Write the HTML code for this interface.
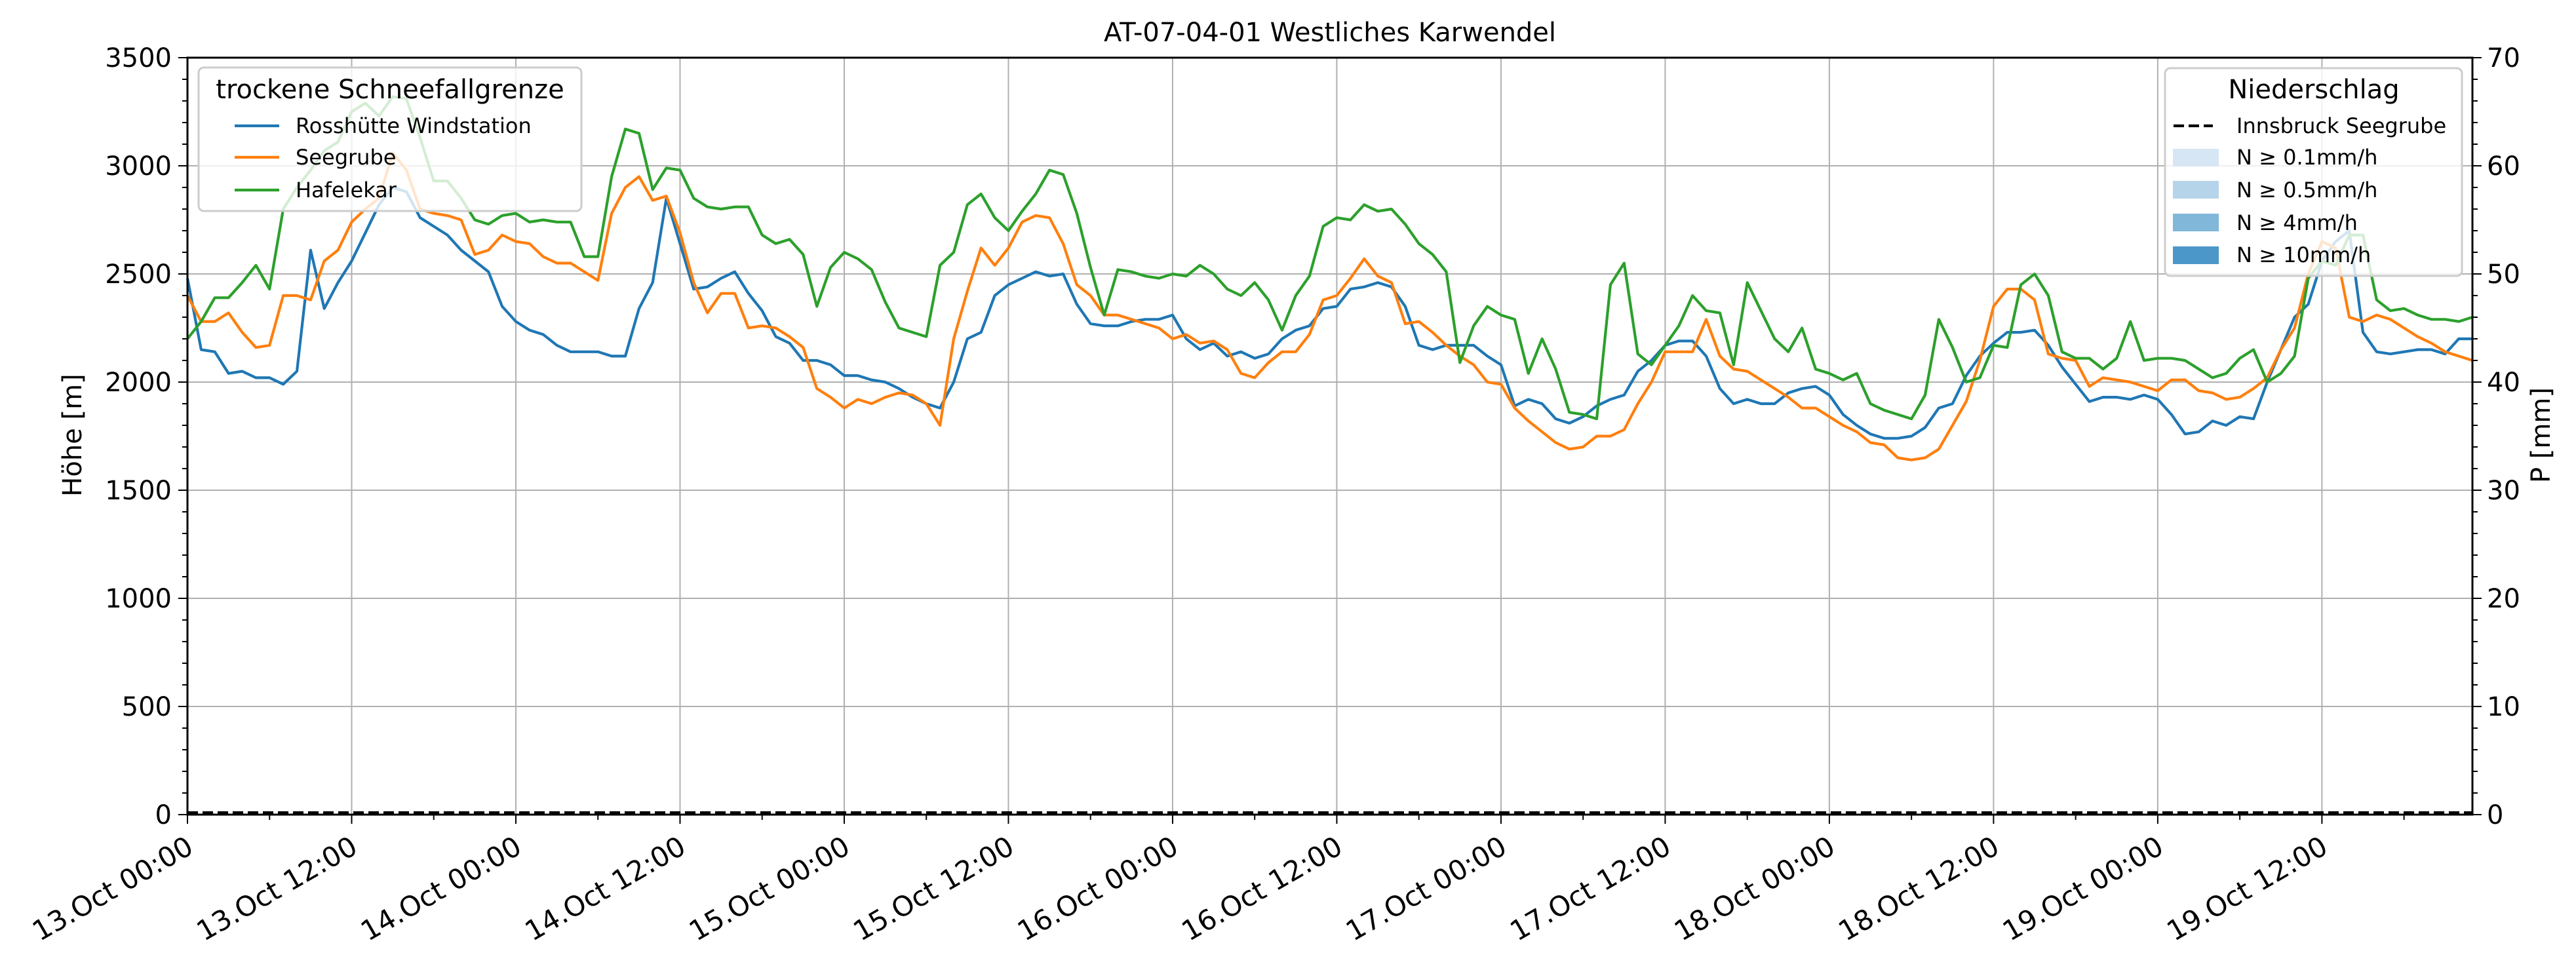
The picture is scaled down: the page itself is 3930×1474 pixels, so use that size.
<!DOCTYPE html>
<html><head><meta charset="utf-8"><style>
html,body{margin:0;padding:0;background:#fff;}
svg{display:block;font-family:"DejaVu Sans","Liberation Sans",sans-serif;}
</style></head><body>
<svg id="chart" width="3930" height="1474" viewBox="0 0 3930 1474" xmlns="http://www.w3.org/2000/svg">
<rect width="3930" height="1474" fill="#fff"/>
<g id="grid"></g>
<g id="series"></g>
<g id="axes"></g>
<text x="2029" y="63" font-size="40" text-anchor="middle">AT-07-04-01 Westliches Karwendel</text>
<text transform="translate(124,664) rotate(-90)" font-size="40" text-anchor="middle">Höhe [m]</text>
<text transform="translate(3890,664) rotate(-90)" font-size="40" text-anchor="middle">P [mm]</text>
<g id="legend-left">
<rect x="303" y="103" width="584" height="219" rx="8" fill="rgba(255,255,255,0.8)" stroke="#cccccc" stroke-width="3"/>
<text x="595" y="150" font-size="40" text-anchor="middle">trockene Schneefallgrenze</text>
<line x1="358" y1="192" x2="426" y2="192" stroke="#1f77b4" stroke-width="4.2"/>
<text x="451" y="203" font-size="32">Rosshütte Windstation</text>
<line x1="358" y1="240" x2="426" y2="240" stroke="#ff7f0e" stroke-width="4.2"/>
<text x="451" y="251" font-size="32">Seegrube</text>
<line x1="358" y1="290" x2="426" y2="290" stroke="#2ca02c" stroke-width="4.2"/>
<text x="451" y="301" font-size="32">Hafelekar</text>
</g>
<g id="legend-right">
<rect x="3303" y="104" width="453" height="317" rx="8" fill="rgba(255,255,255,0.8)" stroke="#cccccc" stroke-width="3"/>
<text x="3530" y="150" font-size="40" text-anchor="middle">Niederschlag</text>
<line x1="3316" y1="192" x2="3376" y2="192" stroke="#000" stroke-width="4.2" stroke-dasharray="16,7"/>
<text x="3412" y="203" font-size="32">Innsbruck Seegrube</text>
<rect x="3315" y="227" width="70" height="27" fill="#d6e6f4"/>
<text x="3412" y="251" font-size="32">N ≥ 0.1mm/h</text>
<rect x="3315" y="276" width="70" height="27" fill="#b6d4e9"/>
<text x="3412" y="301" font-size="32">N ≥ 0.5mm/h</text>
<rect x="3315" y="326" width="70" height="27" fill="#81b7d9"/>
<text x="3412" y="351" font-size="32">N ≥ 4mm/h</text>
<rect x="3315" y="376" width="70" height="27" fill="#4b97c9"/>
<text x="3412" y="400" font-size="32">N ≥ 10mm/h</text>
</g>
</svg>
<script>
const xTickLabels = ["13.Oct 00:00","13.Oct 12:00","14.Oct 00:00","14.Oct 12:00","15.Oct 00:00","15.Oct 12:00","16.Oct 00:00","16.Oct 12:00","17.Oct 00:00","17.Oct 12:00","18.Oct 00:00","18.Oct 12:00","19.Oct 00:00","19.Oct 12:00"];
const yTicks = [0,500,1000,1500,2000,2500,3000,3500];
const y2Ticks = [0,10,20,30,40,50,60,70];
const rosshuette = [2480,2150,2140,2040,2050,2020,2020,1990,2050,2610,2340,2460,2560,2690,2820,2900,2880,2760,2720,2680,2610,2560,2510,2350,2280,2240,2220,2170,2140,2140,2140,2120,2120,2340,2460,2850,2640,2430,2440,2480,2510,2410,2330,2210,2180,2100,2100,2080,2030,2030,2010,2000,1970,1930,1900,1880,2000,2200,2230,2400,2450,2480,2510,2490,2500,2360,2270,2260,2260,2280,2290,2290,2310,2200,2150,2180,2120,2140,2110,2130,2200,2240,2260,2340,2350,2430,2440,2460,2440,2350,2170,2150,2170,2170,2170,2120,2080,1890,1920,1900,1830,1810,1840,1890,1920,1940,2050,2100,2170,2190,2190,2120,1970,1900,1920,1900,1900,1950,1970,1980,1940,1850,1800,1760,1740,1740,1750,1790,1880,1900,2030,2120,2180,2230,2230,2240,2170,2070,1990,1910,1930,1930,1920,1940,1920,1850,1760,1770,1820,1800,1840,1830,2000,2150,2300,2360,2560,2650,2700,2230,2140,2130,2140,2150,2150,2130,2200,2200];
const seegrube = [2400,2280,2280,2320,2230,2160,2170,2400,2400,2380,2560,2610,2740,2800,2850,3060,2980,2800,2780,2770,2750,2590,2610,2680,2650,2640,2580,2550,2550,2510,2470,2780,2900,2950,2840,2860,2690,2460,2320,2410,2410,2250,2260,2250,2210,2160,1970,1930,1880,1920,1900,1930,1950,1940,1900,1800,2200,2420,2620,2540,2620,2740,2770,2760,2640,2450,2400,2310,2310,2290,2270,2250,2200,2220,2180,2190,2150,2040,2020,2090,2140,2140,2220,2380,2400,2480,2570,2490,2460,2270,2280,2230,2170,2120,2080,2000,1990,1880,1820,1770,1720,1690,1700,1750,1750,1780,1900,2000,2140,2140,2140,2290,2120,2060,2050,2010,1970,1930,1880,1880,1840,1800,1770,1720,1710,1650,1640,1650,1690,1800,1910,2100,2350,2430,2430,2380,2130,2110,2100,1980,2020,2010,2000,1980,1960,2010,2010,1960,1950,1920,1930,1970,2020,2150,2250,2500,2650,2620,2300,2280,2310,2290,2250,2210,2180,2140,2120,2100];
const hafelekar = [2200,2280,2390,2390,2460,2540,2430,2800,2900,2980,3070,3110,3250,3290,3230,3320,3310,3130,2930,2930,2850,2750,2730,2770,2780,2740,2750,2740,2740,2580,2580,2950,3170,3150,2890,2990,2980,2850,2810,2800,2810,2810,2680,2640,2660,2590,2350,2530,2600,2570,2520,2370,2250,2230,2210,2540,2600,2820,2870,2760,2700,2790,2870,2980,2960,2780,2530,2310,2520,2510,2490,2480,2500,2490,2540,2500,2430,2400,2460,2380,2240,2400,2490,2720,2760,2750,2820,2790,2800,2730,2640,2590,2510,2090,2260,2350,2310,2290,2040,2200,2060,1860,1850,1830,2450,2550,2130,2080,2170,2260,2400,2330,2320,2080,2460,2330,2200,2140,2250,2060,2040,2010,2040,1900,1870,1850,1830,1940,2290,2160,2000,2020,2170,2160,2450,2500,2400,2140,2110,2110,2060,2110,2280,2100,2110,2110,2100,2060,2020,2040,2110,2150,2000,2040,2120,2480,2560,2540,2680,2680,2380,2330,2340,2310,2290,2290,2280,2300];
const innsbruckPrecip = [0,0];

const L=286,R=3772,T=88,B=1243,XMAX=167,YMAX=3500,Y2MAX=70;
const NS="http://www.w3.org/2000/svg";
const xs=h=>L+(R-L)*h/XMAX;
const ys=v=>B-(B-T)*v/YMAX;
const ys2=v=>B-(B-T)*v/Y2MAX;
function mk(tag,attrs,parent){const e=document.createElementNS(NS,tag);for(const k in attrs)e.setAttribute(k,attrs[k]);parent.appendChild(e);return e;}
const grid=document.getElementById('grid'),axes=document.getElementById('axes'),ser=document.getElementById('series');

xTickLabels.forEach((lab,i)=>{
  const x=xs(i*12);
  if(i>0){const g=mk('line',{x1:x,y1:T,x2:x,y2:B,stroke:'#b0b0b0','stroke-width':2},grid);
  
  }
  mk('line',{x1:x,y1:B,x2:x,y2:B+14,stroke:'#000','stroke-width':2},axes);
  const t=mk('text',{transform:`translate(${x-4},${B+30}) rotate(-30)`,'font-size':42,'text-anchor':'end','dominant-baseline':'hanging'},axes);
  t.textContent=lab;
  
  
});
for(let h=6;h<XMAX;h+=12){mk('line',{x1:xs(h),y1:B,x2:xs(h),y2:B+8,stroke:'#000','stroke-width':2},axes);}
yTicks.forEach(v=>{
  const y=ys(v);
  if(v>0&&v<YMAX){const g=mk('line',{x1:L,y1:y,x2:R,y2:y,stroke:'#b0b0b0','stroke-width':2},grid);
  
  }
  mk('line',{x1:L-14,y1:y,x2:L,y2:y,stroke:'#000','stroke-width':2},axes);
  const t=mk('text',{x:L-24,y:y+14,'font-size':40,'text-anchor':'end'},axes);
  t.textContent=v;
  
  
});
for(let v=100;v<YMAX;v+=100){if(v%500)mk('line',{x1:L-8,y1:ys(v),x2:L,y2:ys(v),stroke:'#000','stroke-width':2},axes);}
y2Ticks.forEach(v=>{
  const y=ys2(v);
  mk('line',{x1:R,y1:y,x2:R+14,y2:y,stroke:'#000','stroke-width':2},axes);
  const t=mk('text',{x:R+22,y:y+14,'font-size':40},axes);
  t.textContent=v;
  
  
});
for(let v=2;v<Y2MAX;v+=2){if(v%10)mk('line',{x1:R,y1:ys2(v),x2:R+8,y2:ys2(v),stroke:'#000','stroke-width':2},axes);}

function line(data,color,name){
  const d=data.map((v,i)=>(i?'L':'M')+xs(i).toFixed(1)+','+ys(v).toFixed(1)).join('');
  const p=mk('path',{d:d,fill:'none',stroke:color,'stroke-width':4.2,'stroke-linejoin':'round'},ser);
  
  
}
line(rosshuette,'#1f77b4','rosshuette-line');
line(seegrube,'#ff7f0e','seegrube-line');
line(hafelekar,'#2ca02c','hafelekar-line');
const pd=mk('line',{x1:L,y1:ys2(innsbruckPrecip[0])-3,x2:R,y2:ys2(innsbruckPrecip[1])-3,stroke:'#000','stroke-width':4.2,'stroke-dasharray':'16,7'},ser);


const fr=mk('rect',{x:L,y:T,width:R-L,height:B-T,fill:'none',stroke:'#000','stroke-width':3},axes);


const svg=document.getElementById('chart');
svg.appendChild(document.getElementById('legend-left'));
svg.appendChild(document.getElementById('legend-right'));
</script>
</body></html>
